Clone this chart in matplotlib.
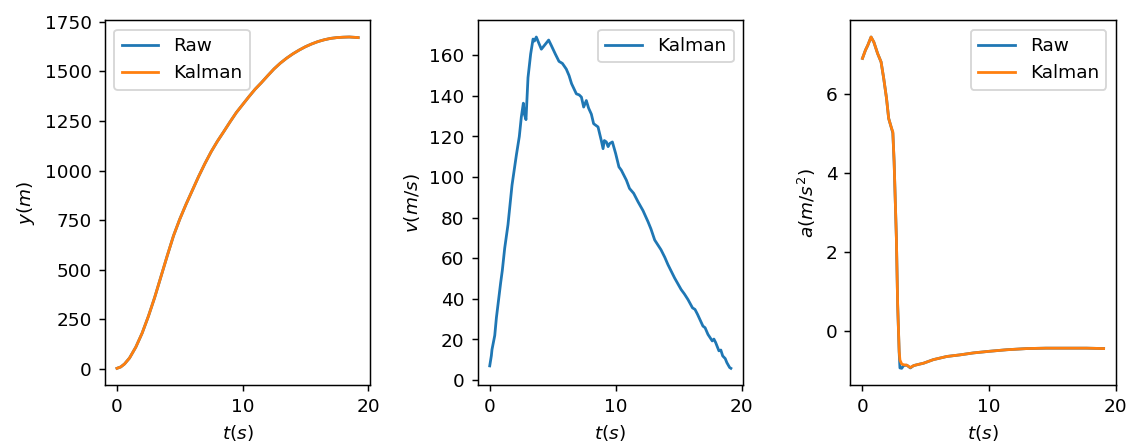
import matplotlib
matplotlib.use("Agg")
import matplotlib.pyplot as plt

# ---------------------------------------------------------------------------
# Data
# ---------------------------------------------------------------------------

# position (m)
pos_t = [0.0, 0.3, 0.6, 1.0, 1.5, 2.0, 2.5, 3.0, 3.5, 4.0, 4.5, 5.0, 5.5,
         6.0, 6.5, 7.0, 7.5, 8.0, 8.5, 9.0, 9.5, 10.0, 10.5, 11.0, 11.5,
         12.0, 12.5, 13.0, 13.5, 14.0, 14.5, 15.0, 15.5, 16.0, 16.5, 17.0,
         17.5, 18.0, 18.5, 19.0, 19.2]
pos_raw = [3, 10, 25, 55, 110, 180, 265, 360, 465, 570, 671, 755, 830,
           900, 970, 1035, 1095, 1148, 1196, 1245, 1292, 1332, 1372, 1410,
           1443, 1478, 1512, 1541, 1566, 1588, 1607, 1624, 1638, 1650, 1659,
           1666, 1670, 1672, 1673, 1671, 1670]
pos_kalman = [3, 10, 25, 55, 110, 180, 265, 360, 465, 570, 671, 755, 830,
              900, 970, 1035, 1095, 1148, 1196, 1245, 1292, 1332, 1372, 1410,
              1443, 1478, 1512, 1541, 1566, 1588, 1607, 1624, 1638, 1650, 1659,
              1666, 1670, 1672, 1673, 1671, 1670]

# velocity (m/s), Kalman estimate only
vel_t = [0.0, 0.13, 0.18, 0.4, 0.53, 0.87, 1.0, 1.19, 1.45, 1.77, 2.12,
         2.35, 2.51, 2.67, 2.75, 2.88, 3.04, 3.25, 3.44, 3.55, 3.7, 3.83,
         4.1, 4.36, 4.68, 4.9, 5.21, 5.5, 5.77, 6.08, 6.3, 6.5, 6.88, 7.1,
         7.28, 7.46, 7.67, 7.85, 8.07, 8.25, 8.6, 8.86, 9.0, 9.1, 9.26,
         9.4, 9.52, 9.74, 10.0, 10.26, 10.45, 10.85, 11.1, 11.43, 11.77,
         12.17, 12.57, 12.8, 13.1, 13.6, 13.9, 14.15, 14.68, 15.2, 15.45,
         15.74, 16.1, 16.3, 16.5, 16.93, 17.1, 17.33, 17.67, 17.8, 17.94,
         18.2, 18.35, 18.5, 18.7, 18.83, 19.05, 19.15]
vel_kalman = [7, 12, 15, 22, 30.7, 48, 54, 65, 76.5, 96, 111,
              120, 129.6, 136.4, 131, 128.3, 149, 160.6, 168, 167, 169, 167,
              163, 165, 167.5, 164.7, 160.6, 157, 156, 153.2, 150, 146, 141, 140.5,
              139.4, 134.5, 137.7, 134, 131, 126.3, 124.7, 118, 114, 118, 117.3,
              115, 116.5, 117.3, 111.6, 105, 103.4, 98.5, 94.4, 92, 87.9,
              83.5, 78, 74.5, 69, 64.2, 60.5, 56.9, 50.3, 44.6, 42.5,
              39.7, 35.6, 34.8, 32.4, 26.6, 25.8, 22.5, 19.3, 20.2, 18.5,
              14.4, 14.8, 11.9, 10.6, 8.6, 6.2, 5.8]

# acceleration (m/s^2)
acc_t = [0.0, 0.24, 0.42, 0.68, 0.9, 1.2, 1.47, 1.68, 1.9, 2.07, 2.26,
         2.4, 2.5, 2.68, 2.78, 2.9, 2.96, 3.1, 3.25, 3.5, 3.78, 4.05, 4.3,
         4.83, 5.6, 6.67, 7.7, 8.77, 10.0, 11.4, 13.0, 14.5, 16.1, 17.7,
         19.05]
acc_raw = [6.89, 7.10, 7.22, 7.43, 7.30, 7.01, 6.80, 6.38, 5.88, 5.37, 5.16,
           5.00, 4.28, 2.34, 0.66, -0.55, -0.94, -0.95, -0.88, -0.87, -0.94,
           -0.88, -0.86, -0.82, -0.73, -0.65, -0.61, -0.56, -0.52, -0.48,
           -0.45, -0.44, -0.44, -0.44, -0.45]
acc_kalman = [6.89, 7.10, 7.22, 7.43, 7.30, 7.01, 6.80, 6.38, 5.88, 5.37, 5.16,
              5.03, 4.28, 2.34, 0.66, -0.52, -0.74, -0.84, -0.86, -0.87, -0.93,
              -0.88, -0.86, -0.82, -0.73, -0.65, -0.61, -0.56, -0.52, -0.48,
              -0.45, -0.44, -0.44, -0.44, -0.45]

# ---------------------------------------------------------------------------
# Plot
# ---------------------------------------------------------------------------

fig, (ax_y, ax_v, ax_a) = plt.subplots(1, 3, figsize=(8.482, 3.354), dpi=133)
fig.subplots_adjust(left=0.093, right=0.989, top=0.954, bottom=0.137,
                    wspace=0.405)

ax_y.plot(pos_t, pos_raw, label="Raw")
ax_y.plot(pos_t, pos_kalman, label="Kalman")
ax_y.set_xlabel("$t(s)$")
ax_y.set_ylabel("$y(m)$")
ax_y.legend(loc="upper left")

ax_v.plot(vel_t, vel_kalman, label="Kalman")
ax_v.set_xlabel("$t(s)$")
ax_v.set_ylabel("$v(m/s)$")
ax_v.legend(loc="upper right")

ax_a.plot(acc_t, acc_raw, label="Raw")
ax_a.plot(acc_t, acc_kalman, label="Kalman")
ax_a.set_xlabel("$t(s)$")
ax_a.set_ylabel("$a(m/s^2)$")
ax_a.legend(loc="upper right")

for ax in (ax_y, ax_v, ax_a):
    ax.set_xticks([0, 10, 20])

fig.savefig("out.png", dpi=133)
